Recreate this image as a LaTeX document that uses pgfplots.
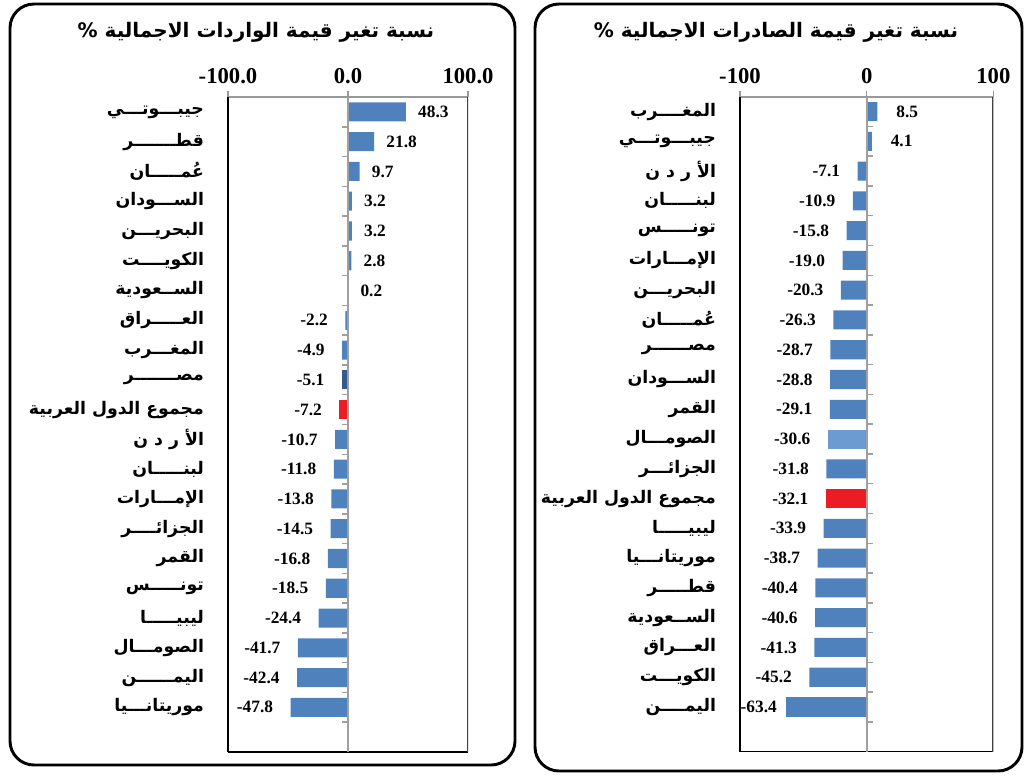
\documentclass[border=0pt]{standalone}
\usepackage{pgfplots}
\pgfplotsset{compat=1.18}
\usepackage{fontspec}
\setmainfont{Liberation Serif}
\newfontfamily\arabicfont[Script=Arabic]{DejaVu Sans}
\TeXXeTstate=1
\definecolor{barblue}{HTML}{4F81BD}
\definecolor{barred}{HTML}{ED1C24}
\definecolor{barlight}{HTML}{6C9BD2}
\definecolor{bardark}{HTML}{34598F}
\newcommand{\ar}[1]{{\arabicfont\bfseries\beginR #1\endR}}
\pgfplotsset{
  panel/.style={
    scale only axis, anchor=north west,
    height=491.25pt,
    xmin=-100, xmax=100, ymin=-21.5, ymax=0.5,
    axis x line*=top, axis y line*=left,
    x axis line style={draw=gray!80, line width=1.3pt},
    y axis line style={draw=black, line width=1.6pt},
    xtick={-100,0,100},
    x tick style={draw=gray!80, line width=1.1pt},
    tick align=outside, major tick length=4.5pt,
    ytick={0,-1,...,-20},
    y tick style={draw=none},
    xticklabel style={font=\fontsize{17}{19}\selectfont\bfseries, text=black, yshift=2pt},
    yticklabel style={font=\fontsize{13}{15}\selectfont, text=black, anchor=east, xshift=-10pt},
    xbar, bar width=0.64,
    point meta=x,
    nodes near coords={\pgfmathprintnumber[fixed,fixed zerofill,precision=1,assume math mode=true]{\pgfplotspointmeta}},
    nodes near coords align=horizontal,
    every node near coord/.append style={font=\fontsize{13}{15}\selectfont\bfseries, text=black, inner sep=5pt},
  },
  midline/.style={
    scale only axis, anchor=north west,
    height=491.25pt,
    xmin=-100, xmax=100, ymin=-21.5, ymax=0.5,
    axis x line=none, axis y line*=middle,
    y axis line style={draw=gray!75, line width=1.6pt, -},
    every inner y axis line/.append style={-},
    ytick={-20.5,-19.5,...,-0.5},
    yticklabels={},
    y tick style={draw=gray!75, line width=1.1pt},
    major tick length=4.5pt,
  },
}
\begin{document}
\begin{tikzpicture}
\path[use as bounding box] (0,0) rectangle (768.75pt,-581.25pt);
\draw[line width=2.2pt, rounded corners=18pt] (7.5pt,-3pt) rectangle (386.25pt,-573.75pt);
\draw[line width=2.2pt, rounded corners=18pt] (401.25pt,-3pt) rectangle (766.5pt,-578.25pt);
\node[font=\fontsize{15}{17}\selectfont] at (192pt,-24pt) {\ar{نسبة تغير قيمة الواردات الاجمالية \%}};
\node[font=\fontsize{15}{17}\selectfont] at (582pt,-24pt) {\ar{نسبة تغير قيمة الصادرات الاجمالية \%}};

% ---------- Left panel: imports ----------
\begin{axis}[panel, at={(171pt,-72.75pt)}, width=180pt,
  xticklabels={-100.0,0.0,100.0},
  yticklabels={
    \ar{جيبـــوتـــي},
    \ar{قطـــــــر},
    \ar{عُمـــــان},
    \ar{الســـودان},
    \ar{البحريـــن},
    \ar{الكويــــت},
    \ar{الســعودية},
    \ar{العـــــراق},
    \ar{المغـــرب},
    \ar{مصـــــــر},
    \ar{مجموع الدول العربية},
    \ar{الأ ر د ن},
    \ar{لبنـــــان},
    \ar{الإمـــارات},
    \ar{الجزائــــر},
    \ar{القمر},
    \ar{تونـــــس},
    \ar{ليبيـــــا},
    \ar{الصومـــال},
    \ar{اليمــــــن},
    \ar{موريتانـــيا}},
]
\addplot[fill=barblue, draw=none, bar shift=0pt,
  every node near coord/.append style={xshift=4pt}] coordinates {
  (48.3,0) (21.8,-1) (9.7,-2) (3.2,-3) (3.2,-4) (2.8,-5) (0.2,-6)};
\addplot[fill=barblue, draw=none, bar shift=0pt,
  every node near coord/.append style={xshift=-8pt}] coordinates {
  (-2.2,-7) (-4.9,-8) (-10.7,-11) (-11.8,-12) (-13.8,-13) (-14.5,-14)
  (-16.8,-15) (-18.5,-16) (-24.4,-17) (-41.7,-18) (-42.4,-19) (-47.8,-20)};
\addplot[fill=bardark, draw=none, bar shift=0pt,
  every node near coord/.append style={xshift=-8pt}] coordinates {(-5.1,-9)};
\addplot[fill=barred, draw=none, bar shift=0pt,
  every node near coord/.append style={xshift=-8pt}] coordinates {(-7.2,-10)};
\draw[black, line width=1.6pt] (rel axis cs:0,0) -- (rel axis cs:1,0);
\draw[black!75, line width=1.3pt] (rel axis cs:1,0) -- (rel axis cs:1,1);
\end{axis}
\begin{axis}[midline, at={(171pt,-72.75pt)}, width=180pt, tick align=outside]
\end{axis}

% ---------- Right panel: exports ----------
\begin{axis}[panel, at={(555pt,-72.5pt)}, width=190pt,
  xticklabels={-100,0,100},
  yticklabels={
    \ar{المغــــرب},
    \ar{جيبـــوتـــي},
    \ar{الأ ر د ن},
    \ar{لبنـــــان},
    \ar{تونـــــس},
    \ar{الإمـــارات},
    \ar{البحريـــن},
    \ar{عُمـــــان},
    \ar{مصــــــر},
    \ar{الســـودان},
    \ar{القمر},
    \ar{الصومـــال},
    \ar{الجزائـــر},
    \ar{مجموع الدول العربية},
    \ar{ليبيـــــا},
    \ar{موريتانـــيا},
    \ar{قطـــــر},
    \ar{الســعودية},
    \ar{العـــراق},
    \ar{الكويـــت},
    \ar{اليمــــن}},
]
\addplot[fill=barblue, draw=none, bar shift=0pt,
  every node near coord/.append style={xshift=9pt}] coordinates {
  (8.5,0) (4.1,-1)};
\addplot[fill=barblue, draw=none, bar shift=0pt,
  every node near coord/.append style={xshift=-8pt}] coordinates {
  (-7.1,-2) (-10.9,-3) (-15.8,-4) (-19.0,-5) (-20.3,-6)
  (-26.3,-7) (-28.7,-8) (-28.8,-9) (-29.1,-10) (-31.8,-12)
  (-33.9,-14) (-38.7,-15) (-40.4,-16) (-40.6,-17) (-41.3,-18) (-45.2,-19)};
\addplot[fill=barblue, draw=none, bar shift=0pt,
  every node near coord/.append style={xshift=-2pt}] coordinates {(-63.4,-20)};
\addplot[fill=barlight, draw=none, bar shift=0pt,
  every node near coord/.append style={xshift=-8pt}] coordinates {(-30.6,-11)};
\addplot[fill=barred, draw=none, bar shift=0pt,
  every node near coord/.append style={xshift=-8pt}] coordinates {(-32.1,-13)};
\draw[black, line width=1.6pt] (rel axis cs:0,0) -- (rel axis cs:1,0);
\draw[black!75, line width=1.3pt] (rel axis cs:1,0) -- (rel axis cs:1,1);
\end{axis}
\begin{axis}[midline, at={(555pt,-72.5pt)}, width=190pt, tick align=inside]
\end{axis}
\end{tikzpicture}
\end{document}
